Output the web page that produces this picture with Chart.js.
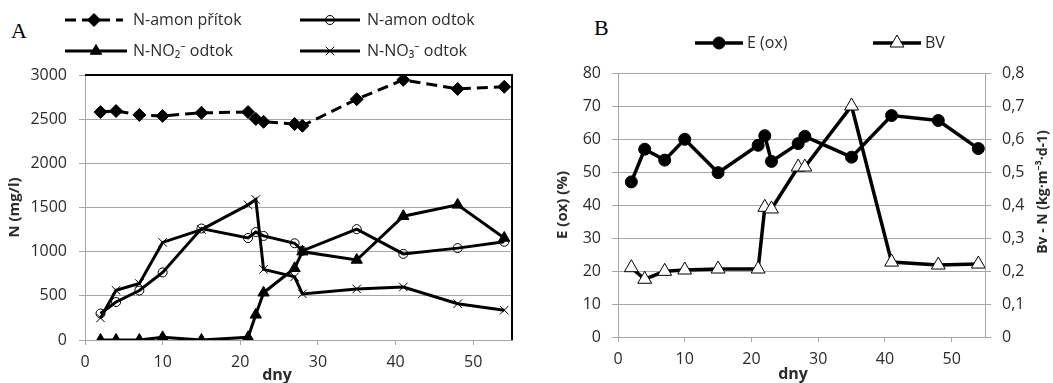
<!DOCTYPE html>
<html>
<head>
<meta charset="utf-8">
<script src="https://cdn.jsdelivr.net/npm/chart.js@4.4.0/dist/chart.umd.min.js"></script>
<style>
body { margin: 0; background: #fff; width: 1053px; height: 383px; overflow: hidden; position: relative; }
canvas { position: absolute; top: 0; }
#chartA { left: 0; }
#chartB { left: 530px; }
.tag { position: absolute; font-family: "Liberation Serif", serif; font-size: 22px; line-height: 22px; color: #000; }
</style>
</head>
<body>
<div class="tag" style="left:11px;top:20px">A</div>
<div class="tag" style="left:594px;top:17px">B</div>
<canvas id="chartA" width="530" height="383"></canvas>
<canvas id="chartB" width="523" height="383"></canvas>
<script>
// days of sampling, shared by both panels
var dny = [2, 4, 7, 10, 15, 21, 22, 23, 27, 28, 35, 41, 48, 54];

// panel A (mg/l)
var amonPritok = [2580, 2592, 2548, 2537, 2572, 2580, 2503, 2470, 2445, 2425, 2726, 2945, 2842, 2866];
var amonOdtok = [300, 430, 560, 765, 1262, 1155, 1222, 1178, 1095, 1010, 1255, 975, 1040, 1112];
var no2Odtok = [0, 0, 0, 30, 0, 30, 285, 535, 812, 1000, 906, 1402, 1530, 1155];
var no3Odtok = [250, 562, 640, 1105, 1250, 1530, 1590, 800, 715, 522, 578, 600, 410, 338];

// panel B
var eOx = [47, 56.9, 53.6, 59.9, 49.8, 58.1, 61, 53.2, 58.6, 60.8, 54.5, 67.1, 65.6, 57.1];
var bvN = [0.21, 0.175, 0.199, 0.203, 0.206, 0.206, 0.393, 0.388, 0.515, 0.515, 0.700, 0.227, 0.218, 0.221];

var labelsA = ['N-amon přítok', 'N-amon odtok', 'N-NO₂⁻ odtok', 'N-NO₃⁻ odtok'];
var labelsB = ['E (ox)', 'BV'];

var FONT = '"Open Sans", "Noto Sans", sans-serif';
var GRID = '#a6a6a6';
var TXT = '#2b2b2b';

function pts(ys) {
    return dny.map(function(x, i) { return { x: x, y: ys[i] }; });
}

// draws the legend rows, panel titles that Chart.js can't place the way Excel did
var extras = {
    id: 'extras',
    afterDraw: function(chart, args, opts) {
        var ctx = chart.ctx;
        var h = Chart.helpers;
        ctx.save();
        (opts.legend || []).forEach(function(it) {
            var ds = chart.data.datasets[it.ds];
            ctx.strokeStyle = ds.borderColor;
            ctx.lineWidth = ds.borderWidth;
            ctx.setLineDash(ds.borderDash || []);
            ctx.beginPath();
            ctx.moveTo(it.x1, it.y);
            ctx.lineTo(it.x2, it.y);
            ctx.stroke();
            ctx.setLineDash([]);
            ctx.fillStyle = ds.pointBackgroundColor;
            ctx.strokeStyle = ds.pointBorderColor;
            ctx.lineWidth = ds.pointBorderWidth;
            h.drawPoint(ctx, { pointStyle: ds.pointStyle, radius: ds.pointRadius, borderWidth: ds.pointBorderWidth, rotation: 0 },
                (it.x1 + it.x2) / 2, it.y);
            ctx.fillStyle = TXT;
            ctx.font = '16px ' + FONT;
            ctx.textAlign = 'left';
            ctx.textBaseline = 'middle';
            ctx.fillText(ds.label, it.tx, it.y);
        });
        (opts.titles || []).forEach(function(t) {
            ctx.fillStyle = TXT;
            ctx.font = 'bold ' + t.size + 'px ' + FONT;
            ctx.textAlign = 'center';
            ctx.textBaseline = 'middle';
            ctx.translate(t.x, t.y);
            ctx.rotate(t.rot || 0);
            ctx.fillText(t.text, 0, 0);
            ctx.setTransform(1, 0, 0, 1, 0, 0);
        });
        if (opts.frame) {
            var a = chart.chartArea;
            ctx.strokeStyle = '#000';
            ctx.lineWidth = 2;
            ctx.beginPath();
            ctx.moveTo(a.left, a.top);
            ctx.lineTo(a.right, a.top);
            ctx.lineTo(a.right, a.bottom);
            ctx.stroke();
        }
        ctx.restore();
    }
};

Chart.defaults.font.family = FONT;
Chart.defaults.font.size = 16;
Chart.defaults.color = TXT;
Chart.defaults.animation = false;

new Chart(document.getElementById('chartA'), {
    type: 'line',
    data: {
        datasets: [
            {
                label: labelsA[0], data: pts(amonPritok),
                borderColor: '#000', borderWidth: 3, borderDash: [11, 6],
                pointStyle: 'rectRot', pointRadius: 6.5, pointBackgroundColor: '#000', pointBorderColor: '#000', pointBorderWidth: 1
            },
            {
                label: labelsA[1], data: pts(amonOdtok),
                borderColor: '#000', borderWidth: 3,
                pointStyle: 'circle', pointRadius: 4.5, pointBackgroundColor: 'rgba(0,0,0,0)', pointBorderColor: '#000', pointBorderWidth: 1
            },
            {
                label: labelsA[2], data: pts(no2Odtok),
                borderColor: '#000', borderWidth: 3,
                pointStyle: 'triangle', pointRadius: 6.5, pointBackgroundColor: '#000', pointBorderColor: '#000', pointBorderWidth: 1
            },
            {
                label: labelsA[3], data: pts(no3Odtok),
                borderColor: '#000', borderWidth: 3,
                pointStyle: 'crossRot', pointRadius: 6, pointBackgroundColor: '#000', pointBorderColor: '#000', pointBorderWidth: 1
            }
        ]
    },
    options: {
        responsive: false,
        layout: { padding: { top: 75, right: 18, left: 0, bottom: 0 } },
        elements: { line: { tension: 0 } },
        scales: {
            x: {
                type: 'linear', min: 0, max: 55,
                afterFit: function(s) { s.height = 43; },
                ticks: { stepSize: 10, includeBounds: false, padding: 8 },
                grid: { drawOnChartArea: false, color: GRID, tickLength: 5 },
                border: { color: GRID }
            },
            y: {
                min: 0, max: 3000,
                afterFit: function(s) { s.width = 85; },
                ticks: { stepSize: 500, padding: 12, callback: function(v) { return String(v); } },
                grid: { color: GRID, tickLength: 6 },
                border: { color: GRID },
                title: { display: true, text: 'N (mg/l)', font: { size: 15, weight: 'bold' }, padding: { top: 6, bottom: 0 } }
            }
        },
        plugins: {
            legend: { display: false },
            tooltip: { enabled: false },
            extras: {
                frame: true,
                legend: [
                    { ds: 0, x1: 65, x2: 123, y: 20, tx: 133 },
                    { ds: 1, x1: 300, x2: 360, y: 20, tx: 367 },
                    { ds: 2, x1: 65, x2: 127, y: 51, tx: 133 },
                    { ds: 3, x1: 300, x2: 360, y: 51, tx: 367 }
                ],
                titles: [ { text: 'dny', x: 277, y: 375, size: 16 } ]
            }
        }
    },
    plugins: [extras]
});

new Chart(document.getElementById('chartB'), {
    type: 'line',
    data: {
        datasets: [
            {
                label: labelsB[0], data: pts(eOx), yAxisID: 'y',
                borderColor: '#000', borderWidth: 3.5,
                pointStyle: 'circle', pointRadius: 6, pointBackgroundColor: '#000', pointBorderColor: '#000', pointBorderWidth: 1
            },
            {
                label: labelsB[1], data: pts(bvN), yAxisID: 'y2',
                borderColor: '#000', borderWidth: 3.5,
                pointStyle: 'triangle', pointRadius: 8, pointBackgroundColor: '#fff', pointBorderColor: '#000', pointBorderWidth: 1
            }
        ]
    },
    options: {
        responsive: false,
        layout: { padding: { top: 73, right: 0, left: 0, bottom: 0 } },
        elements: { line: { tension: 0 } },
        scales: {
            x: {
                type: 'linear', min: 0, max: 55,
                afterFit: function(s) { s.height = 46; },
                ticks: { stepSize: 10, includeBounds: false, padding: 8 },
                grid: { drawOnChartArea: false, color: GRID, tickLength: 5 },
                border: { color: GRID }
            },
            y: {
                position: 'left', min: 0, max: 80,
                afterFit: function(s) { s.width = 88; },
                ticks: { stepSize: 10, padding: 11 },
                grid: { color: GRID, tickLength: 6 },
                border: { color: GRID },
                title: { display: true, text: 'E (ox) (%)', font: { size: 15, weight: 'bold' }, padding: { top: 24, bottom: 0 } }
            },
            y2: {
                position: 'right', min: 0, max: 0.8,
                afterFit: function(s) { s.width = 68; },
                ticks: {
                    stepSize: 0.1, padding: 11,
                    callback: function(v) { return v === 0 ? '0' : v.toFixed(1).replace('.', ','); }
                },
                grid: { drawOnChartArea: false, color: GRID, tickLength: 6 },
                border: { color: GRID }
            }
        },
        plugins: {
            legend: { display: false },
            tooltip: { enabled: false },
            extras: {
                legend: [
                    { ds: 0, x1: 165, x2: 213, y: 43, tx: 217 },
                    { ds: 1, x1: 343, x2: 391, y: 43, tx: 395 }
                ],
                titles: [
                    { text: 'dny', x: 263, y: 374, size: 16 },
                    { text: 'Bv - N (kg·m⁻³·d-1)', x: 513, y: 192, size: 14, rot: -Math.PI / 2 }
                ]
            }
        }
    },
    plugins: [extras]
});
</script>
</body>
</html>
